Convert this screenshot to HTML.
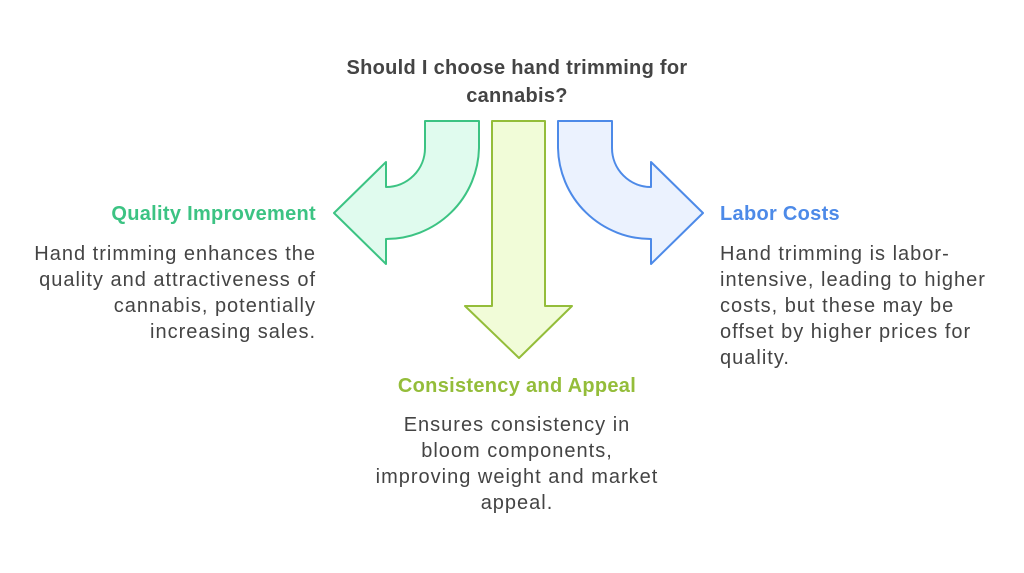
<!DOCTYPE html>
<html><head><style>
body{margin:0;width:1024px;height:573px;background:#fff;position:relative;font-family:"Liberation Sans",sans-serif;color:#444;overflow:hidden}
.t{position:absolute;font-size:20px;font-weight:bold;line-height:28px;letter-spacing:0.3px;white-space:nowrap}
.b{position:absolute;font-size:20px;line-height:26px;letter-spacing:1px;white-space:nowrap}
</style></head><body>
<svg width="1024" height="573" style="position:absolute;left:0;top:0">
<path d="M425,121 H479 V148 A93,93 0 0 1 386,239 V264 L334,213 L386,162 V187 A39,39 0 0 0 425,148 Z" fill="#e0fbee" stroke="#3cc383" stroke-width="2" stroke-linejoin="round"/>
<path d="M492,121 H545 V306 H572 L519,358 L465,306 H492 Z" fill="#f1fcd8" stroke="#94bd3a" stroke-width="2" stroke-linejoin="round"/>
<path d="M612,121 H558 V148 A93,93 0 0 0 651,239 V264 L703,213 L651,162 V187 A39,39 0 0 1 612,148 Z" fill="#ebf2fe" stroke="#4d8ae8" stroke-width="2" stroke-linejoin="round"/>
</svg>
<div class="t" style="left:317px;width:400px;top:54px;text-align:center;color:#444">Should I choose hand trimming for<br>cannabis?</div>
<div class="t" style="right:708px;top:200px;color:#3cc383">Quality Improvement</div>
<div class="b" style="right:708px;top:241px;text-align:right">Hand trimming enhances the<br>quality and attractiveness of<br>cannabis, potentially<br>increasing sales.</div>
<div class="t" style="left:720px;top:200px;color:#4d8ae8">Labor Costs</div>
<div class="b" style="left:720px;top:241px">Hand trimming is labor-<br>intensive, leading to higher<br>costs, but these may be<br>offset by higher prices for<br>quality.</div>
<div class="t" style="left:317px;width:400px;top:372px;text-align:center;color:#94bd3a">Consistency and Appeal</div>
<div class="b" style="left:317px;width:400px;top:412px;text-align:center">Ensures consistency in<br>bloom components,<br>improving weight and market<br>appeal.</div>
</body></html>
